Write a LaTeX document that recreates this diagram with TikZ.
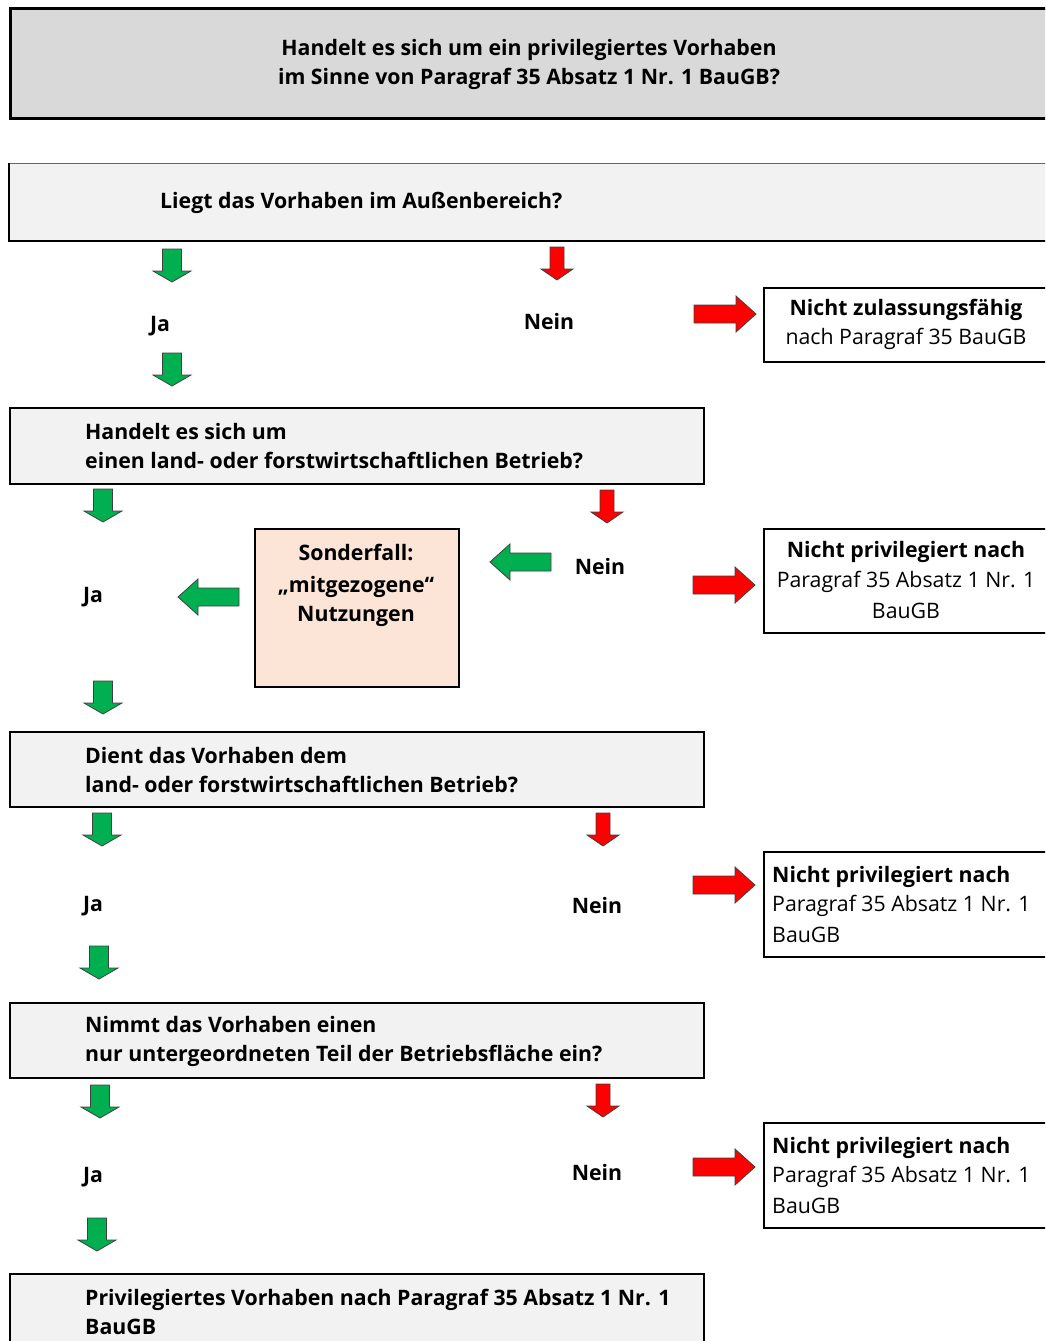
\documentclass[tikz,border=0pt]{standalone}
\usepackage{fontspec}
\setmainfont{Open Sans}
\definecolor{titlegray}{HTML}{D9D9D9}
\definecolor{qgray}{HTML}{F2F2F2}
\definecolor{peach}{HTML}{FCE4D6}
\definecolor{agreen}{HTML}{00B050}
\definecolor{ared}{HTML}{FF0000}
\definecolor{aline}{HTML}{404040}
\tikzset{
  arrowline/.style={draw=aline, line width=0.8pt, line join=miter},
  qbox/.style={draw=black, line width=1.5pt, fill=qgray, anchor=north west, inner sep=0pt},
  rbox/.style={draw=black, line width=1.8pt, fill=white, anchor=north west, inner sep=0pt},
  txt/.style={font=\fontsize{21.3}{29}\selectfont, inner sep=0pt},
  btxt/.style={txt, font=\fontsize{21.3}{29}\selectfont\bfseries},
}
% down arrow: x, ytop, colour, shaft width, head width
\newcommand\dnarrow[5]{%
  \draw[arrowline, fill=#3] (#1,#2) ++(-#4/2,0) -- ++(#4,0) -- ++(0,22)
    -- ++(#5/2-#4/2,0) -- (#1,#2+33) -- ++(-#5/2,-11) -- ++(#5/2-#4/2,0) -- cycle;}
% right arrow: xleft, ycentre
\newcommand\rtarrow[2]{%
  \draw[arrowline, fill=ared] (#1,#2-9) -- ++(42,0) -- ++(0,-9) -- (#1+62,#2)
    -- (#1+42,#2+18) -- ++(0,-9) -- (#1,#2+9) -- cycle;}
% left arrow: xright, ycentre
\newcommand\lfarrow[2]{%
  \draw[arrowline, fill=agreen] (#1,#2-9) -- ++(-41,0) -- ++(0,-9) -- (#1-61,#2)
    -- (#1-41,#2+18) -- ++(0,-9) -- (#1,#2+9) -- cycle;}
\begin{document}
\begin{tikzpicture}[x=1pt,y=-1pt]
\useasboundingbox (0,0) rectangle (1045,1341);
\clip (0,0) rectangle (1045,1341);

% title
\node[draw=black, line width=3pt, fill=titlegray, anchor=north west, inner sep=0pt,
      minimum width=1060pt, minimum height=110pt] (title) at (9,7) {};
\node[btxt, align=center] (titletxt) at (529,64) {Handelt es sich um ein privilegiertes Vorhaben\\im Sinne von Paragraf 35 Absatz 1 Nr. 1 BauGB?};

% Q1
\fill[qgray] (9,163) rectangle (1060,241);
\draw[line width=1pt, draw=black!60] (9,163) -- (1060,163);
\draw[line width=2pt] (9,163) -- (9,241) -- (1060,241);
\coordinate (q1) at (9,163);
\node[btxt, anchor=west] (q1txt) at (160,203) {Liegt das Vorhaben im Außenbereich?};

\dnarrow{172}{249}{agreen}{19}{38}
\node[btxt] (ja1) at (160,326) {Ja};
\dnarrow{172}{353}{agreen}{19}{38}
\dnarrow{557}{247}{ared}{14}{32}
\node[btxt] (nein1) at (549,322) {Nein};
\rtarrow{694}{314}
\node[rbox, minimum width=300pt, minimum height=74pt] (r1) at (763,287) {};
\node[btxt] (r1a) at (906,310) {Nicht zulassungsfähig};
\node[txt] (r1b) at (906,339) {nach Paragraf 35 BauGB};

% Q2
\node[qbox, minimum width=694pt, minimum height=76pt] (q2) at (9,407) {};
\node[btxt, anchor=west, align=left] (q2txt) at (85,446) {Handelt es sich um\\einen land- oder forstwirtschaftlichen Betrieb?};
\dnarrow{103}{489}{agreen}{19}{38}
\dnarrow{607}{490}{ared}{14}{32}
\node[draw=black, line width=1.5pt, fill=peach, anchor=north west, inner sep=0pt,
      minimum width=204pt, minimum height=158pt] (sonder) at (254,528) {};
\node[btxt] (s1) at (356,552) {Sonderfall:};
\node[btxt] (s2) at (356,587) {„mitgezogene“};
\node[btxt] (s3) at (356,616) {Nutzungen};
\lfarrow{551}{562}
\node[btxt] (nein2) at (600,567) {Nein};
\node[btxt] (ja2) at (93,597) {Ja};
\lfarrow{239}{597}
\rtarrow{693}{585}
\node[rbox, minimum width=300pt, minimum height=104pt] (r2) at (763,528) {};
\node[btxt] (r2a) at (906,552) {Nicht privilegiert nach};
\node[txt] (r2b) at (906,582) {Paragraf 35 Absatz 1 Nr. 1};
\node[txt] (r2c) at (906,611) {BauGB};
\dnarrow{103}{681}{agreen}{19}{38}

% Q3
\node[qbox, minimum width=694pt, minimum height=75pt] (q3) at (9,731) {};
\node[btxt, anchor=west, align=left] (q3txt) at (85,770) {Dient das Vorhaben dem\\land- oder forstwirtschaftlichen Betrieb?};
\dnarrow{102}{813}{agreen}{19}{38}
\dnarrow{603}{813}{ared}{14}{32}
\node[btxt] (ja3) at (93,906) {Ja};
\node[btxt] (nein3) at (597,906) {Nein};
\rtarrow{693}{885}
\node[rbox, minimum width=300pt, minimum height=105pt] (r3) at (763,851) {};
\node[btxt, anchor=west] (r3a) at (772,877) {Nicht privilegiert nach};
\node[txt, anchor=west] (r3b) at (772,906) {Paragraf 35 Absatz 1 Nr. 1};
\node[txt, anchor=west] (r3c) at (772,935) {BauGB};
\dnarrow{99}{946}{agreen}{19}{38}

% Q4
\node[qbox, minimum width=694pt, minimum height=75pt] (q4) at (9,1002) {};
\node[btxt, anchor=west, align=left] (q4txt) at (85,1041) {Nimmt das Vorhaben einen\\nur untergeordneten Teil der Betriebsfläche ein?};
\dnarrow{100}{1085}{agreen}{19}{38}
\dnarrow{603}{1084}{ared}{14}{32}
\node[btxt] (ja4) at (93,1177) {Ja};
\node[btxt] (nein4) at (597,1172) {Nein};
\rtarrow{693}{1167}
\node[rbox, minimum width=300pt, minimum height=105pt] (r4) at (763,1122) {};
\node[btxt, anchor=west] (r4a) at (772,1148) {Nicht privilegiert nach};
\node[txt, anchor=west] (r4b) at (772,1177) {Paragraf 35 Absatz 1 Nr. 1};
\node[txt, anchor=west] (r4c) at (772,1206) {BauGB};
\dnarrow{97}{1218}{agreen}{19}{38}

% final
\node[qbox, minimum width=694pt, minimum height=90pt] (fin) at (9,1273) {};
\node[btxt, anchor=west, align=left] (fintxt) at (85,1312) {Privilegiertes Vorhaben nach Paragraf 35 Absatz 1 Nr. 1\\BauGB};
\end{tikzpicture}
\end{document}
